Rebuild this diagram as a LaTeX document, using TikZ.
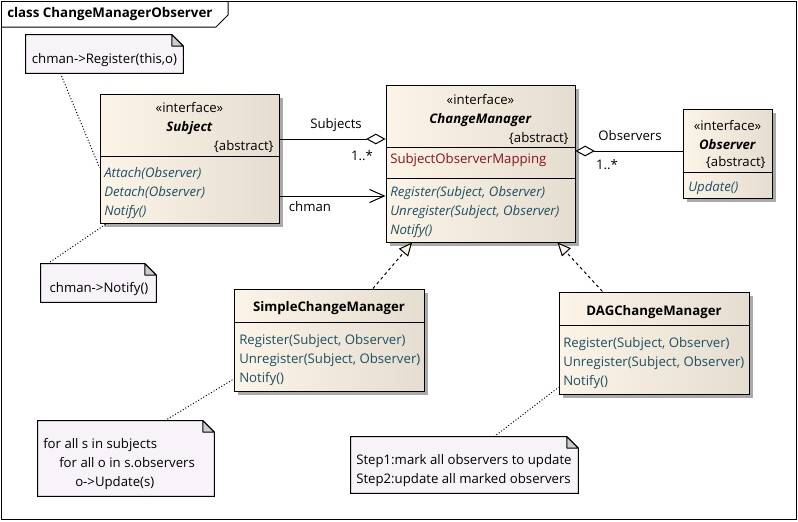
\documentclass[tikz,border=0pt]{standalone}
\usepackage{fontspec}
\setmainfont{Open Sans}
\usetikzlibrary{arrows.meta,fit,calc,shadows}
\definecolor{clsleft}{RGB}{252,244,230}
\definecolor{clsright}{RGB}{229,221,207}
\definecolor{notefill}{RGB}{247,243,248}
\definecolor{foldgray}{RGB}{205,205,205}
\definecolor{shadowgray}{RGB}{170,170,170}
\definecolor{oper}{RGB}{28,80,102}
\definecolor{attr}{RGB}{140,18,28}
\begin{document}
\begin{tikzpicture}[x=0.75pt, y=-0.75pt,
umlclass/.style={draw=black, line width=0.75pt, left color=clsleft, right color=clsright, inner sep=0pt,
	drop shadow={shadow xshift=3pt, shadow yshift=-3pt, opacity=1, fill=shadowgray}},
notebox/.style={inner sep=0pt},
notepath/.style={draw=black, line width=0.75pt, fill=notefill},
foldpath/.style={draw=black, line width=0.75pt, fill=foldgray, line join=round},
divider/.style={line width=0.75pt},
clstext/.style={inner sep=0pt, font=\fontsize{9.9}{14.25}\selectfont},
ops/.style={clstext, align=left, anchor=north west, text=oper},
notetext/.style={clstext, align=left},
aggregation/.style={line width=0.75pt, -{Diamond[length=14.5pt, width=8pt, fill=white]}},
navigable/.style={line width=0.75pt, -{Straight Barb[length=11pt, width=9.75pt]}},
realize/.style={line width=0.75pt, dash pattern=on 2.25pt off 2.25pt, -{Triangle[length=10pt, width=9pt, fill=clsleft]}},
notelink/.style={line width=0.75pt, dash pattern=on 0.75pt off 1.5pt},
]
\useasboundingbox (0,0) rectangle (798,521);
\draw[line width=0.75pt] (1.5,1.5) rectangle (796.5,519.5);
\draw[line width=0.75pt] (1.5,27) -- (216,27) -- (228,15) -- (228,1.5);
\node[clstext, anchor=west, font=\fontsize{10}{14.25}\selectfont\bfseries] (title) at (7,14) {class ChangeManagerObserver};

\node[umlclass, fit={(100,94) (279,223)}] (subject) {};
\draw[divider] (subject.west |- 0,156) -- (subject.east |- 0,156);
\node[clstext, align=center] (subjecthead) at (189.5,118.5) {«interface»\\\textbf{\textit{Subject}}};
\node[clstext, anchor=east] (subjectabs) at (274,147) {\{abstract\}};
\node[ops, font=\fontsize{9.9}{14.25}\selectfont\itshape] (subjectops) at (104,167.5) {Attach(Observer)\\Detach(Observer)\\Notify()};

\node[umlclass, fit={(386,85) (575,242)}] (cm) {};
\draw[divider] (cm.west |- 0,147) -- (cm.east |- 0,147);
\draw[divider] (cm.west |- 0,178) -- (cm.east |- 0,178);
\node[clstext, align=center] (cmhead) at (480.5,111) {«interface»\\\textbf{\textit{ChangeManager}}};
\node[clstext, anchor=east] (cmabs) at (569,139) {\{abstract\}};
\node[clstext, anchor=west, text=attr] (cmattr) at (390,160) {SubjectObserverMapping};
\node[ops, font=\fontsize{9.9}{14.25}\selectfont\itshape] (cmops) at (390,186.5) {Register(Subject, Observer)\\Unregister(Subject, Observer)\\Notify()};

\node[umlclass, fit={(683,109) (772,198)}] (observer) {};
\draw[divider] (observer.west |- 0,172) -- (observer.east |- 0,172);
\node[clstext, align=center] (observerhead) at (727.5,135) {«interface»\\\textbf{\textit{Observer}}};
\node[clstext, anchor=east] (observerabs) at (766,163) {\{abstract\}};
\node[clstext, anchor=west, text=oper, font=\fontsize{9.9}{14.25}\selectfont\itshape] (observerops) at (688,188) {Update()};

\node[umlclass, fit={(234,289) (424,391)}] (scm) {};
\draw[divider] (scm.west |- 0,322) -- (scm.east |- 0,322);
\node[clstext, font=\fontsize{9.9}{14.25}\selectfont\bfseries] (scmhead) at (329,308) {SimpleChangeManager};
\node[ops] (scmops) at (239,334.5) {Register(Subject, Observer)\\Unregister(Subject, Observer)\\Notify()};

\node[umlclass, fit={(559,292) (749,394)}] (dag) {};
\draw[divider] (dag.west |- 0,325) -- (dag.east |- 0,325);
\node[clstext, font=\fontsize{9.9}{14.25}\selectfont\bfseries] (daghead) at (654,312) {DAGChangeManager};
\node[ops] (dagops) at (563,337.5) {Register(Subject, Observer)\\Unregister(Subject, Observer)\\Notify()};

\node[notebox, fit={(26,35) (183,73)}] (note1) {};
\filldraw[notepath] (note1.north west) -- ([xshift=-8.5pt]note1.north east) -- ([yshift=-8.5pt]note1.north east) -- (note1.south east) -- (note1.south west) -- cycle;
\filldraw[foldpath] ([xshift=-8.5pt]note1.north east) -- ([xshift=-8.5pt, yshift=-8.5pt]note1.north east) -- ([yshift=-8.5pt]note1.north east) -- cycle;
\node[notetext] (note1text) at (104.5,60) {chman->Register(this,o)};

\node[notebox, fit={(41,264) (156,302)}] (note2) {};
\filldraw[notepath] (note2.north west) -- ([xshift=-8.5pt]note2.north east) -- ([yshift=-8.5pt]note2.north east) -- (note2.south east) -- (note2.south west) -- cycle;
\filldraw[foldpath] ([xshift=-8.5pt]note2.north east) -- ([xshift=-8.5pt, yshift=-8.5pt]note2.north east) -- ([yshift=-8.5pt]note2.north east) -- cycle;
\node[notetext] (note2text) at (99,289) {chman->Notify()};

\node[notebox, fit={(38,421) (214,496)}] (note3) {};
\filldraw[notepath] (note3.north west) -- ([xshift=-8.5pt]note3.north east) -- ([yshift=-8.5pt]note3.north east) -- (note3.south east) -- (note3.south west) -- cycle;
\filldraw[foldpath] ([xshift=-8.5pt]note3.north east) -- ([xshift=-8.5pt, yshift=-8.5pt]note3.north east) -- ([yshift=-8.5pt]note3.north east) -- cycle;
\node[notetext, anchor=north west] (note3text) at (43,438.5) {for all s in subjects\\\hspace*{12pt}for all o in s.observers\\\hspace*{24pt}o->Update(s)};

\node[notebox, fit={(351,437) (578,493)}] (note4) {};
\filldraw[notepath] (note4.north west) -- ([xshift=-8.5pt]note4.north east) -- ([yshift=-8.5pt]note4.north east) -- (note4.south east) -- (note4.south west) -- cycle;
\filldraw[foldpath] ([xshift=-8.5pt]note4.north east) -- ([xshift=-8.5pt, yshift=-8.5pt]note4.north east) -- ([yshift=-8.5pt]note4.north east) -- cycle;
\node[notetext, anchor=north west] (note4text) at (356,454.5) {Step1:mark all observers to update\\Step2:update all marked observers};

\coordinate (subjrow) at (0,139);
\coordinate (chmanrow) at (0,196);
\coordinate (obsrow) at (0,151);
\draw[aggregation] (subject.east |- subjrow) -- (cm.west |- subjrow);
\draw[navigable] (subject.east |- chmanrow) -- (cm.west |- chmanrow);
\draw[aggregation] (observer.west |- obsrow) -- (cm.east |- obsrow);
\node[clstext] (lblsubjects) at (336,125) {Subjects};
\node[clstext] (lblsubjmult) at (362,156) {1..*};
\node[clstext] (lblchman) at (310,207) {chman};
\node[clstext] (lblobservers) at (630,136) {Observers};
\node[clstext] (lblobsmult) at (607,165) {1..*};

\draw[realize] ($(scm.north west)!0.73!(scm.north east)$) -- ($(cm.south west)!0.14!(cm.south east)$);
\draw[realize] ($(dag.north west)!0.23!(dag.north east)$) -- ($(cm.south west)!0.905!(cm.south east)$);

\draw[notelink] ($(note1.south west)!0.22!(note1.south east)$) -- ($(subject.north west)!0.57!(subject.south west)$);
\draw[notelink] ($(note2.north west)!0.06!(note2.north east)$) -- ($(subject.south west)!0.04!(subject.south east)$);
\draw[notelink] ($(note3.north west)!0.72!(note3.north east)$) -- ($(scm.north west)!0.88!(scm.south west)$);
\draw[notelink] ($(note4.north west)!0.63!(note4.north east)$) -- ($(dag.north west)!0.93!(dag.south west)$);
\end{tikzpicture}
\end{document}
